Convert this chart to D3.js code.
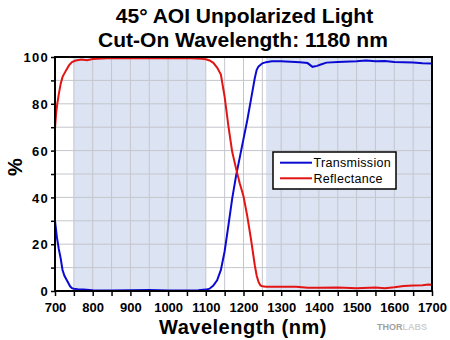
<!DOCTYPE html>
<html>
<head>
<meta charset="utf-8">
<script src="https://cdn.jsdelivr.net/npm/d3@7"></script>
<style>
  body { margin: 0; background: #fff; }
  text { font-family: "Liberation Sans", Arial, sans-serif; }
</style>
</head>
<body>
<div id="chart"></div>
<script>
var svgWidth = 450;
var svgHeight = 340;

// data
var titleLines = ["45\u00b0 AOI Unpolarized Light", "Cut-On Wavelength: 1180 nm"];
var legendLabels = ["Transmission", "Reflectance"];
var shadeBands = [[750, 1100], [1260, 1700]];

var xTicks = [700, 800, 900, 1000, 1100, 1200, 1300, 1400, 1500, 1600, 1700];
var yTicks = [0, 20, 40, 60, 80, 100];

var transWl = [700, 705, 710, 715, 720, 725, 730, 735, 740, 745, 750, 760, 775, 800, 850, 900, 950, 1000, 1050, 1080, 1100,
  1110, 1120, 1130, 1140, 1150, 1160, 1170, 1180, 1190, 1200, 1210, 1220, 1230, 1235, 1240, 1250, 1260, 1275, 1300,
  1325, 1350, 1370, 1383, 1395, 1405, 1420, 1450, 1500, 1525, 1550, 1575, 1600, 1625, 1650, 1675, 1700];
var transVals = [30, 23, 18, 14, 9, 6.5, 5, 3.5, 2, 1.2, 1, 0.8, 0.6, 0.3, 0.2, 0.3, 0.4, 0.2, 0.2, 0.3, 0.6,
  1, 2.3, 4.6, 9, 17, 28, 39.5, 49, 57, 65, 73, 82, 91, 94.5, 96, 97.3, 97.8, 98.2, 98.2,
  98, 97.8, 97.4, 95.8, 96.2, 96.8, 97.6, 97.9, 98.2, 98.5, 98.2, 98.3, 97.9, 97.8, 97.6, 97.3, 97.2];

var reflWl = [700, 703, 706, 710, 715, 720, 725, 730, 737, 745, 755, 770, 785, 800, 825, 850, 900, 950, 1000, 1050, 1075,
  1090, 1100, 1110, 1120, 1130, 1140, 1150, 1160, 1170, 1180, 1190, 1200, 1210, 1220, 1230, 1235, 1240, 1245, 1250,
  1260, 1300, 1340, 1370, 1400, 1450, 1500, 1550, 1575, 1600, 1625, 1650, 1675, 1690, 1700];
var reflVals = [69.5, 76, 80, 84, 88.5, 91.5, 93, 94.5, 96.4, 97.8, 98.5, 98.9, 98.6, 99.1, 99.4, 99.6, 99.5, 99.6, 99.5, 99.6, 99.4,
  99.2, 99, 98.5, 97.5, 95.5, 92.5, 83, 70.5, 59.5, 52.5, 46, 40.5, 32, 22, 11, 6.5, 3.8, 2.4, 2,
  1.8, 1.8, 1.8, 1.4, 1.4, 1.5, 1.2, 1.5, 1.2, 1.6, 2.1, 2.3, 2.5, 2.8, 2.7];

var svg = d3.select("#chart")
  .append("svg")
  .attr("width", svgWidth)
  .attr("height", svgHeight);

var xScale = d3.scaleLinear().domain([700, 1700]).range([55, 432]);
var yScale = d3.scaleLinear().domain([0, 100]).range([291, 57]);

// shaded bands
svg.selectAll("rect.band")
  .data(shadeBands)
  .enter()
  .append("rect")
  .attr("class", "band")
  .attr("x", d => xScale(d[0]))
  .attr("y", yScale(100))
  .attr("width", d => xScale(d[1]) - xScale(d[0]))
  .attr("height", yScale(0) - yScale(100))
  .attr("fill", "#dce3f2");

// grid
svg.append("g")
  .selectAll("line")
  .data(d3.range(750, 1700, 50))
  .enter()
  .append("line")
  .attr("x1", d => xScale(d)).attr("x2", d => xScale(d))
  .attr("y1", yScale(0)).attr("y2", yScale(100))
  .attr("stroke", "#c4c6cc").attr("stroke-width", 1);

svg.append("g")
  .selectAll("line")
  .data(d3.range(10, 100, 10))
  .enter()
  .append("line")
  .attr("x1", xScale(700)).attr("x2", xScale(1700))
  .attr("y1", d => yScale(d)).attr("y2", d => yScale(d))
  .attr("stroke", "#c4c6cc").attr("stroke-width", 1);

// curves
var line = d3.line()
  .x(d => xScale(d[0]))
  .y(d => yScale(d[1]));

svg.append("path")
  .datum(transWl.map((w, i) => [w, transVals[i]]))
  .attr("d", line)
  .attr("fill", "none")
  .attr("stroke", "#0a0ad2")
  .attr("stroke-width", 2);

svg.append("path")
  .datum(reflWl.map((w, i) => [w, reflVals[i]]))
  .attr("d", line)
  .attr("fill", "none")
  .attr("stroke", "#e21414")
  .attr("stroke-width", 2);

// axes
var bottomAxis = d3.axisBottom(xScale)
  .tickValues(d3.range(700, 1701, 50))
  .tickSize(5)
  .tickSizeOuter(0)
  .tickFormat(d => xTicks.indexOf(d) >= 0 ? d : "");

var leftAxis = d3.axisLeft(yScale)
  .tickValues(d3.range(0, 101, 10))
  .tickSize(4)
  .tickSizeOuter(0)
  .tickFormat(d => yTicks.indexOf(d) >= 0 ? d : "");

var xAxisG = svg.append("g")
  .attr("transform", `translate(0, ${yScale(0)})`)
  .call(bottomAxis);
xAxisG.select(".domain").remove();
xAxisG.selectAll("line").attr("stroke", "#000").attr("stroke-width", 1.5);
xAxisG.selectAll("text")
  .attr("y", 21).attr("dy", 0)
  .style("font-size", "13px").style("font-weight", "bold")
  .style("font-family", "'Liberation Sans', Arial, sans-serif")
  .attr("fill", "#000");

var yAxisG = svg.append("g")
  .attr("transform", `translate(${xScale(700)}, 0)`)
  .call(leftAxis);
yAxisG.select(".domain").remove();
yAxisG.selectAll("line").attr("stroke", "#000").attr("stroke-width", 1.5);
yAxisG.selectAll("text")
  .attr("x", -6).attr("dy", "0.36em")
  .style("font-size", "13px").style("font-weight", "bold")
  .style("letter-spacing", "1.3px")
  .style("font-family", "'Liberation Sans', Arial, sans-serif")
  .attr("fill", "#000");

// frame
svg.append("rect")
  .attr("x", xScale(700))
  .attr("y", yScale(100))
  .attr("width", xScale(1700) - xScale(700))
  .attr("height", yScale(0) - yScale(100))
  .attr("fill", "none")
  .attr("stroke", "#000")
  .attr("stroke-width", 2);

// legend
var legend = svg.append("g").attr("transform", "translate(273, 152)");
legend.append("rect")
  .attr("width", 123).attr("height", 37)
  .attr("fill", "#fff").attr("stroke", "#000").attr("stroke-width", 1.5);
var legendColors = ["#0a0ad2", "#e21414"];
legendLabels.forEach(function(label, i) {
  var y = 10.7 + i * 15.6;
  legend.append("line")
    .attr("x1", 7).attr("x2", 39)
    .attr("y1", y).attr("y2", y)
    .attr("stroke", legendColors[i]).attr("stroke-width", 2);
  legend.append("text")
    .attr("x", 40.5).attr("y", y + 4.2)
    .style("font-size", "12.5px")
    .style("letter-spacing", "0.3px")
    .text(label);
});

// titles
svg.selectAll("text.title")
  .data(titleLines)
  .enter()
  .append("text")
  .attr("class", "title")
  .attr("x", (d, i) => i === 0 ? 244.5 : 243)
  .attr("y", (d, i) => 22.7 + i * 24)
  .attr("text-anchor", "middle")
  .style("font-size", "21px")
  .style("font-weight", "bold")
  .text(d => d);

svg.append("text")
  .attr("x", 243)
  .attr("y", 333.5)
  .attr("text-anchor", "middle")
  .style("font-size", "20px")
  .style("font-weight", "bold")
  .style("letter-spacing", "0.5px")
  .text("Wavelength (nm)");

svg.append("text")
  .attr("transform", "translate(22, 167) rotate(-90)")
  .attr("text-anchor", "middle")
  .style("font-size", "20px")
  .style("font-weight", "bold")
  .text("%");

var logo = svg.append("text")
  .attr("x", 377)
  .attr("y", 329.5)
  .style("font-size", "9px")
  .style("font-weight", "bold");
logo.append("tspan").attr("fill", "#a0a0a0").text("THOR");
logo.append("tspan").attr("fill", "#cfcfcf").text("LABS");
</script>
</body>
</html>
